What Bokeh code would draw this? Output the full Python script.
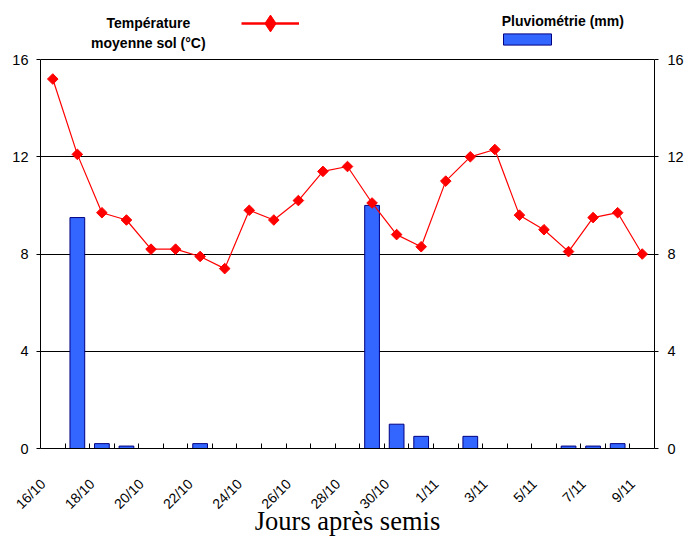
import math
from bokeh.plotting import figure
from bokeh.models import Range1d, LinearAxis, FixedTicker, Legend, LegendItem, Label, ColumnDataSource
from bokeh.embed import file_html
from bokeh.resources import INLINE
from bokeh.core.properties import value

# ---- data ----
dates = ["16/10", "17/10", "18/10", "19/10", "20/10", "21/10", "22/10", "23/10",
         "24/10", "25/10", "26/10", "27/10", "28/10", "29/10", "30/10", "31/10",
         "1/11", "2/11", "3/11", "4/11", "5/11", "6/11", "7/11", "8/11", "9/11"]
temperature = [15.2, 12.1, 9.7, 9.4, 8.2, 8.2, 7.9, 7.4, 9.8, 9.4, 10.2, 11.4, 11.6,
               10.1, 8.8, 8.3, 11.0, 12.0, 12.3, 9.6, 9.0, 8.1, 9.5, 9.7, 8.0]
rainfall = [0, 9.5, 0.2, 0.1, 0, 0, 0.2, 0, 0, 0, 0, 0, 0,
            10.0, 1.0, 0.5, 0, 0.5, 0, 0, 0, 0.1, 0.1, 0.2, 0]
y_ticks = [0, 4, 8, 12, 16]
label_every = 2

temp_label = ["Température", "moyenne sol (°C)"]
rain_label = "Pluviométrie (mm)"
x_title = "Jours après semis"

# ---- positions derived from the category index ----
n = len(dates)
xc = [i + 0.5 for i in range(n)]
label_shift = 0.4           # rotated labels end slightly left of the category centre
label_ticks = [xc[i] - label_shift for i in range(0, n, label_every)]
overrides = {xc[i] - label_shift: dates[i] for i in range(0, n, label_every)}
boundaries = list(range(1, n))

temp_src = ColumnDataSource(dict(x=xc, y=temperature))
rain_src = ColumnDataSource(dict(x=[xc[i] for i in range(n) if rainfall[i] > 0],
                                 top=[r for r in rainfall if r > 0]))

# the frame extends above the top gridline so that the legend can sit in it
y_top = 18.43
p = figure(width=686, height=539, x_range=Range1d(0, n), y_range=Range1d(y_ticks[0], y_top),
           output_backend="svg", toolbar_location=None,
           min_border_left=40, min_border_right=31, min_border_top=0, min_border_bottom=91)
p.extra_y_ranges = {"rain": Range1d(y_ticks[0], y_top)}
p.outline_line_color = None
p.background_fill_color = "white"
p.border_fill_color = "white"

p.xgrid.visible = False
p.ygrid.ticker = FixedTicker(ticks=y_ticks)
p.ygrid.grid_line_color = "black"
p.ygrid.grid_line_width = 1

# bars (rain) on secondary axis
bars = p.vbar(x="x", top="top", width=0.6, bottom=0, source=rain_src, y_range_name="rain",
              fill_color="#3366FF", line_color="#000080", line_width=1)
# temperature
tline = p.line("x", "y", source=temp_src, line_color="#FF0000", line_width=1.2)
tpts = p.scatter("x", "y", source=temp_src, marker="square", angle=math.pi / 4, size=7.5,
                 fill_color="#FF0000", line_color="#FF0000")
# legend-only sample glyphs (hidden in the plot)
leg_line = p.line("x", "y", source=temp_src, line_color="#FF0000", line_width=2.5, visible=False)
leg_mark = p.scatter("x", "y", source=temp_src, marker="diamond", size=10,
                     fill_color="#FF0000", line_color="#FF0000", visible=False)

# axes
xa = p.xaxis[0]
xa.ticker = FixedTicker(ticks=label_ticks, minor_ticks=boundaries)
xa.major_label_overrides = overrides
xa.major_label_orientation = math.pi / 4
xa.major_tick_in = 0
xa.major_tick_out = 0
xa.minor_tick_in = 5
xa.minor_tick_out = 0
xa.minor_tick_line_color = "black"
xa.axis_line_color = "black"
xa.major_label_text_font = "Liberation Sans"
xa.major_label_text_font_size = "14px"
xa.major_label_text_color = "black"
xa.major_label_standoff = 33
xa.axis_label = x_title
xa.axis_label_text_font = "Liberation Serif"
xa.axis_label_text_font_size = "26.5px"
xa.axis_label_text_font_style = "normal"
xa.axis_label_text_color = "black"
xa.axis_label_standoff = -15

ya = p.yaxis[0]
ya.ticker = FixedTicker(ticks=y_ticks)
ya.bounds = (y_ticks[0], y_ticks[-1])
ya.minor_tick_line_color = None
ya.major_tick_in = 0
ya.major_tick_out = 4
ya.major_label_standoff = 8
ya.major_label_text_font = "Liberation Sans"
ya.major_label_text_font_size = "14.5px"
ya.major_label_text_color = "black"
ya.axis_line_color = "black"

yr = LinearAxis(y_range_name="rain", ticker=FixedTicker(ticks=y_ticks), bounds=(y_ticks[0], y_ticks[-1]))
yr.minor_tick_line_color = None
yr.major_tick_in = 0
yr.major_tick_out = 4
yr.major_label_standoff = 9
yr.major_label_text_font = "Liberation Sans"
yr.major_label_text_font_size = "14.5px"
yr.major_label_text_color = "black"
yr.axis_line_color = "black"
p.add_layout(yr, "right")

# legends (glyph only) + texts
common = dict(label_width=0, label_height=0, label_standoff=0, padding=0, margin=0, spacing=0,
              border_line_alpha=0, background_fill_alpha=0, label_text_font_size="1px")
leg1 = Legend(items=[LegendItem(label=value(" "), renderers=[leg_line, leg_mark])],
              location=(201, 404), glyph_width=58, glyph_height=42, **common)
leg2 = Legend(items=[LegendItem(label=value(" "), renderers=[bars])],
              location=(457, 402), glyph_width=60, glyph_height=14, **common)
p.add_layout(leg1, "center")
p.add_layout(leg2, "center")

lab_common = dict(text_font="Liberation Sans", text_font_size="14px", text_font_style="bold",
                  text_color="black", text_baseline="alphabetic")
p.add_layout(Label(x=4.39, y=17.52, text=temp_label[0], text_align="center", **lab_common))
p.add_layout(Label(x=4.39, y=16.69, text=temp_label[1], text_align="center", **lab_common))
p.add_layout(Label(x=18.78, y=17.6, text=rain_label, text_align="left", **lab_common))

open("out.html", "w").write(file_html(p, INLINE))
